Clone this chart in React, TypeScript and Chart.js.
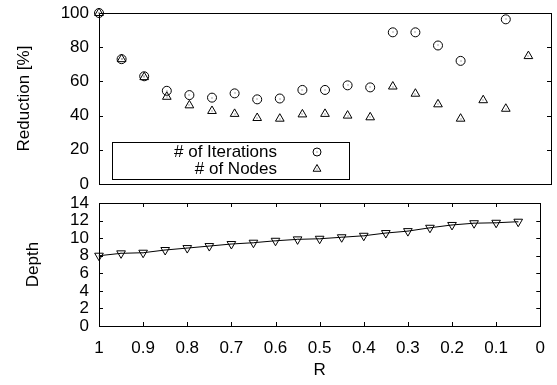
import { useEffect, useRef } from "react";
import { Chart, registerables } from "chart.js";

Chart.register(...registerables);

// R values (decreasing from 1 to 0.05)
const rValues = [1, 0.95, 0.9, 0.85, 0.8, 0.75, 0.7, 0.65, 0.6, 0.55, 0.5, 0.45, 0.4, 0.35, 0.3, 0.25, 0.2, 0.15, 0.1, 0.05];
// Reduction of iterations [%]
const iterations: (number | null)[] = [100, 73, 63, 54.5, 52, 50.5, 53, 49.5, 50, 55, 55, 57.7, 56.5, 88.7, 88.7, 81, 72, null, 96.3, null];
// Reduction of nodes [%]
const nodes = [100, 73, 62.5, 51, 46, 42.7, 41, 38.6, 38.2, 40.7, 41, 40, 39, 57, 52.8, 46.6, 38.2, 49, 44, 74.8];
// Tree depth
const depth = [8.0, 8.27, 8.34, 8.65, 8.87, 9.1, 9.33, 9.48, 9.7, 9.86, 9.93, 10.1, 10.27, 10.58, 10.8, 11.18, 11.5, 11.7, 11.75, 11.87];

const seriesLabels = ["# of Iterations", "# of Nodes"];
const reductionTitle = "Reduction [%]";
const depthTitle = "Depth";
const rTitle = "R";

const FONT = "'Liberation Sans', Arial, Helvetica, sans-serif";
const FONT_SIZE = 17;

Chart.defaults.font.family = FONT;
Chart.defaults.font.size = FONT_SIZE;
Chart.defaults.color = "#000";

const pts = (ys: (number | null)[]) =>
  rValues.map((x, i) => ({ x, y: ys[i] as number }));

// Frame around the plot area with inward tick marks (gnuplot style)
const tickFrame = {
  id: "tickFrame",
  afterDatasetsDraw(chart: any, _args: any, opts: any) {
    const { ctx, chartArea: a, scales } = chart;
    const len = 4;
    ctx.save();
    ctx.strokeStyle = "#000";
    ctx.lineWidth = 1;
    ctx.beginPath();
    const ys = scales.y;
    ys.ticks.forEach((t: any) => {
      const p = Math.round(ys.getPixelForValue(t.value)) + 0.5;
      ctx.moveTo(a.left, p);
      ctx.lineTo(a.left + len, p);
      ctx.moveTo(a.right, p);
      ctx.lineTo(a.right - len, p);
    });
    if (opts && opts.xTicks) {
      const xs = scales.x;
      xs.ticks.forEach((t: any) => {
        const p = Math.round(xs.getPixelForValue(t.value)) + 0.5;
        ctx.moveTo(p, a.bottom);
        ctx.lineTo(p, a.bottom - len);
        ctx.moveTo(p, a.top);
        ctx.lineTo(p, a.top + len);
      });
    }
    ctx.stroke();
    ctx.strokeRect(
      Math.round(a.left) + 0.5,
      Math.round(a.top) + 0.5,
      Math.round(a.right - a.left),
      Math.round(a.bottom - a.top)
    );
    ctx.restore();
  },
};

// Small dot in the centre of every marker
const centerDots = {
  id: "centerDots",
  afterDatasetsDraw(chart: any) {
    const { ctx } = chart;
    ctx.save();
    ctx.fillStyle = "#555";
    chart.data.datasets.forEach((_d: any, i: number) => {
      const meta = chart.getDatasetMeta(i);
      meta.data.forEach((el: any) => {
        if (el.skip || isNaN(el.y)) return;
        ctx.fillRect(Math.round(el.x) - 0.5, Math.round(el.y) - 0.5, 1, 1);
      });
    });
    ctx.restore();
  },
};

// Boxed key with right-aligned labels and markers on the right
const boxedKey = {
  id: "boxedKey",
  afterDraw(chart: any) {
    const { ctx } = chart;
    const box = { x: 112.5, y: 142.5, w: 237, h: 37 };
    ctx.save();
    ctx.strokeStyle = "#000";
    ctx.lineWidth = 1;
    ctx.strokeRect(box.x, box.y, box.w, box.h);
    ctx.font = `${FONT_SIZE}px ${FONT}`;
    ctx.fillStyle = "#000";
    ctx.textAlign = "right";
    ctx.textBaseline = "middle";
    const rows = [152, 169];
    chart.data.datasets.forEach((d: any, i: number) => {
      const y = rows[i];
      ctx.fillText(d.label, 277, y);
      const mx = 317;
      ctx.beginPath();
      if (d.pointStyle === "circle") {
        ctx.arc(mx, y, 4, 0, Math.PI * 2);
      } else {
        const r = 4.5;
        ctx.moveTo(mx, y - r);
        ctx.lineTo(mx + r * 0.866, y + r * 0.5);
        ctx.lineTo(mx - r * 0.866, y + r * 0.5);
        ctx.closePath();
      }
      ctx.stroke();
      ctx.fillStyle = "#555";
      ctx.fillRect(mx - 0.5, y - 0.5, 1, 1);
      ctx.fillStyle = "#000";
    });
    ctx.restore();
  },
};

const fixY = (scale: any) => {
  scale.width = 99;
  scale.paddingTop = 0;
  scale.paddingBottom = 0;
};

const rTick = (v: any) => String(Number(Number(v).toFixed(1)));

export default function App() {
  const topRef = useRef<HTMLCanvasElement | null>(null);
  const botRef = useRef<HTMLCanvasElement | null>(null);

  useEffect(() => {
    const top = new Chart(topRef.current as HTMLCanvasElement, {
      type: "scatter",
      data: {
        datasets: [
          {
            label: seriesLabels[0],
            data: pts(iterations),
            pointStyle: "circle",
            pointRadius: 4.5,
            borderColor: "#000",
            backgroundColor: "rgba(0,0,0,0)",
            borderWidth: 1,
            clip: false,
          },
          {
            label: seriesLabels[1],
            data: pts(nodes),
            pointStyle: "triangle",
            pointRadius: 5,
            borderColor: "#000",
            backgroundColor: "rgba(0,0,0,0)",
            borderWidth: 1,
            clip: false,
          },
        ],
      },
      options: {
        responsive: false,
        animation: false,
        layout: { padding: { left: 0, right: 6, top: 13, bottom: 11 } },
        plugins: {
          legend: { display: false },
          tooltip: { enabled: false },
        },
        scales: {
          x: { type: "linear", min: 0, max: 1, reverse: true, display: false },
          y: {
            min: 0,
            max: 100,
            ticks: { stepSize: 20, padding: 10, color: "#000", autoSkip: false },
            grid: { display: false, drawTicks: false },
            border: { display: false },
            title: {
              display: true,
              text: reductionTitle,
              color: "#000",
              padding: { top: 14, bottom: 14 },
            },
            afterFit: fixY,
          },
        },
      },
      plugins: [tickFrame, centerDots, boxedKey],
    });

    const bottom = new Chart(botRef.current as HTMLCanvasElement, {
      type: "scatter",
      data: {
        datasets: [
          {
            label: depthTitle,
            data: pts(depth),
            showLine: true,
            pointStyle: "triangle",
            rotation: 180,
            pointRadius: 5,
            borderColor: "#000",
            backgroundColor: "rgba(0,0,0,0)",
            borderWidth: 1,
            clip: false,
          },
        ],
      },
      options: {
        responsive: false,
        animation: false,
        layout: { padding: { left: 0, right: 6, top: 8, bottom: 0 } },
        plugins: {
          legend: { display: false },
          tooltip: { enabled: false },
          tickFrame: { xTicks: true },
        } as any,
        scales: {
          x: {
            type: "linear",
            min: 0,
            max: 1,
            reverse: true,
            ticks: { stepSize: 0.1, padding: 12, color: "#000", callback: rTick, maxRotation: 0, autoSkip: false },
            grid: { display: false, drawTicks: false },
            border: { display: false },
            title: {
              display: true,
              text: rTitle,
              color: "#000",
              padding: { top: 4, bottom: 4 },
            },
            afterFit: (s: any) => {
              s.height = 59;
            },
          },
          y: {
            min: 0,
            max: 14,
            ticks: { stepSize: 2, padding: 10, color: "#000", autoSkip: false },
            grid: { display: false, drawTicks: false },
            border: { display: false },
            title: {
              display: true,
              text: depthTitle,
              color: "#000",
              padding: { top: 23, bottom: 23 },
            },
            afterFit: fixY,
          },
        },
      },
      plugins: [tickFrame, centerDots],
    });

    return () => {
      top.destroy();
      bottom.destroy();
    };
  }, []);

  return (
    <div style={{ position: "absolute", left: 0, top: 0, width: 557, height: 385, background: "#fff" }}>
      <canvas ref={topRef} width={557} height={195} style={{ display: "block", width: 557, height: 195 }} />
      <canvas ref={botRef} width={557} height={190} style={{ display: "block", width: 557, height: 190 }} />
    </div>
  );
}
